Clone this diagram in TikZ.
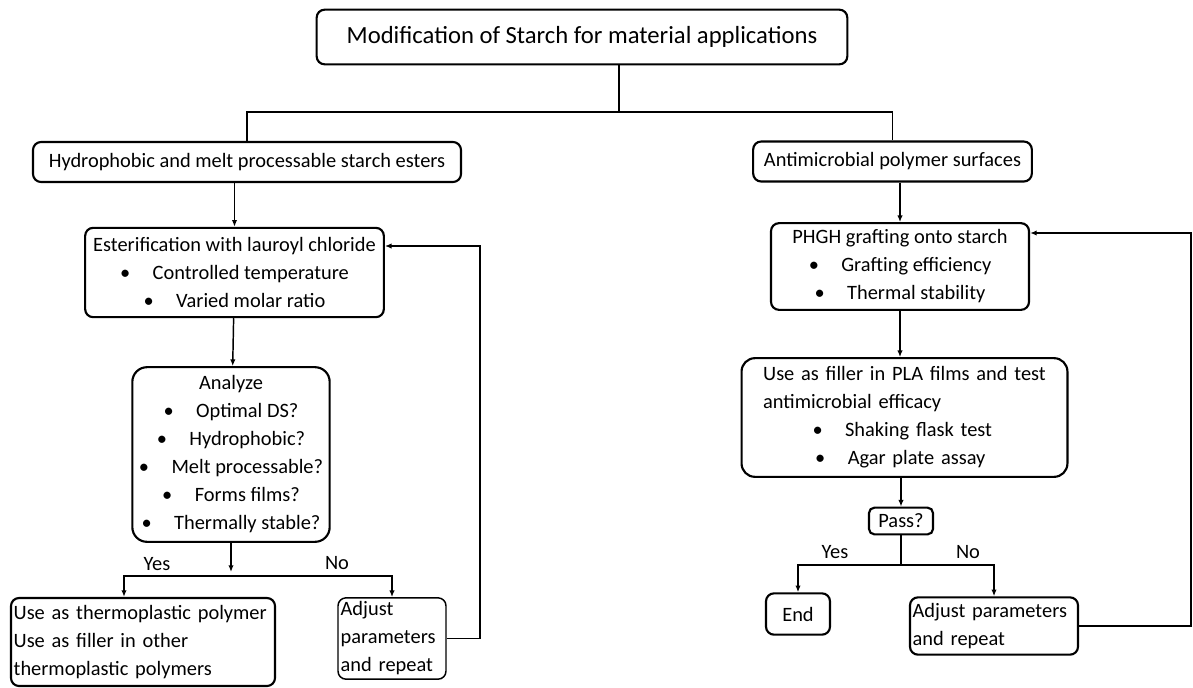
\documentclass[tikz,border=0pt]{standalone}
\usepackage{fontspec}
\setmainfont{Carlito}
\usepackage{tikz}
\usetikzlibrary{arrows.meta,positioning,calc}

\begin{document}
\begin{tikzpicture}[>={Latex[length=5pt,width=4pt]}, x=0.75pt, y=-0.75pt,
    stagebox/.style={draw, line width=1.6pt, rounded corners=6pt, inner sep=2pt, align=center,
      font=\fontsize{15.3pt}{21pt}\selectfont},
    link/.style={line width=1.1pt},
    arr/.style={line width=1.1pt, ->},
    tag/.style={font=\fontsize{15.3pt}{17pt}\selectfont, inner sep=0pt}]
  \useasboundingbox (0,0) rectangle (1193,687);

  \node[stagebox, minimum width=398pt, minimum height=41pt, font=\fontsize{18.5pt}{22pt}\selectfont] (top) at (582,37)
    {Modification of Starch for material applications};

  % left branch
  \node[stagebox, minimum width=321pt, minimum height=30pt] (esters) at (247,162)
    {Hydrophobic and melt processable starch esters};
  \node[stagebox, minimum width=224pt, minimum height=67pt] (estep) at (234.5,272.5)
    {Esterification with lauroyl chloride\\
     \textbullet\hspace{1.1em}Controlled temperature\\
     \textbullet\hspace{1.1em}Varied molar ratio};
  \node[stagebox, rounded corners=11pt, minimum width=148pt, minimum height=131pt] (analyze) at (231,454.5)
    {Analyze\\
     \textbullet\hspace{1.1em}Optimal DS?\\
     \textbullet\hspace{1.1em}Hydrophobic?\\
     \textbullet\hspace{1.1em}Melt processable?\\
     \textbullet\hspace{1.1em}Forms films?\\
     \textbullet\hspace{1.1em}Thermally stable?};
  \node[stagebox, align=left, text width=194pt, minimum height=66pt] (useleft) at (143,642)
    {Use as thermoplastic polymer\\
     Use as filler in other\\
     thermoplastic polymers};
  \node[stagebox, align=left, text width=77pt, minimum height=61pt, line width=1.1pt] (adjleft) at (392,638.5)
    {Adjust\\ parameters\\ and repeat};

  % right branch
  \node[stagebox, minimum width=209pt, minimum height=30pt] (antimic) at (892.5,161.5)
    {Antimicrobial polymer surfaces};
  \node[stagebox, minimum width=193.5pt, minimum height=65pt] (phgh) at (900,266.5)
    {PHGH grafting onto starch\\
     \textbullet\hspace{1.1em}Grafting efficiency\\
     \textbullet\hspace{1.1em}Thermal stability};
  \node[stagebox, align=left, text width=212pt, inner xsep=16.2pt, rounded corners=10pt, minimum height=89pt] (filler) at (904.5,417.5)
    {Use as filler in PLA films and test\\
     antimicrobial efficacy\\
     \hspace*{37pt}\textbullet\hspace{1.1em}Shaking flask test\\
     \hspace*{39pt}\textbullet\hspace{1.1em}Agar plate assay};
  \node[stagebox, minimum width=48pt, minimum height=20pt, rounded corners=4pt] (pass) at (901,521) {Pass?};
  \node[stagebox, minimum width=48pt, minimum height=31pt] (endbox) at (798,614) {End};
  \node[stagebox, align=left, text width=122pt, minimum height=43pt] (adjright) at (994,626)
    {Adjust parameters\\ and repeat};

  % connectors
  \coordinate (split) at (619,112);
  \draw[link] (top.south -| split) -- (split);
  \draw[link] (esters.north) |- (split) -| (antimic.north);
  \draw[arr] (esters.south -| estep) -- (estep.north);
  \draw[arr] (estep) -- (analyze);
  \coordinate (lfork) at (231,576);
  \coordinate (lyes) at (124,576);
  \draw[arr] (analyze.south) -- ([yshift=3pt]lfork);
  \draw[arr] (lfork) -| (useleft.north -| lyes);
  \draw[arr] (lfork) -| (adjleft.north);
  \node[tag] (lyeslabel) at (157,564) {Yes};
  \node[tag] (lnolabel) at (337,563) {No};
  \coordinate (lback) at (480,246);
  \draw[arr] (adjleft.east) -| (lback) -- (lback -| estep.east);

  \draw[arr] (antimic.south -| phgh) -- (phgh.north);
  \draw[arr] (phgh) -- (phgh |- filler.north);
  \draw[arr] (pass |- filler.south) -- (pass.north);
  \coordinate (rfork) at (901,565);
  \draw[link] (pass.south) -- (rfork);
  \draw[arr] (rfork) -| (endbox.north);
  \draw[arr] (rfork) -| (adjright.north);
  \node[tag] (ryeslabel) at (835,552) {Yes};
  \node[tag] (rnolabel) at (968,552) {No};
  \coordinate (rback) at (1191,233);
  \draw[arr] (adjright.east) -| (rback) -- (rback -| phgh.east);
\end{tikzpicture}
\end{document}
